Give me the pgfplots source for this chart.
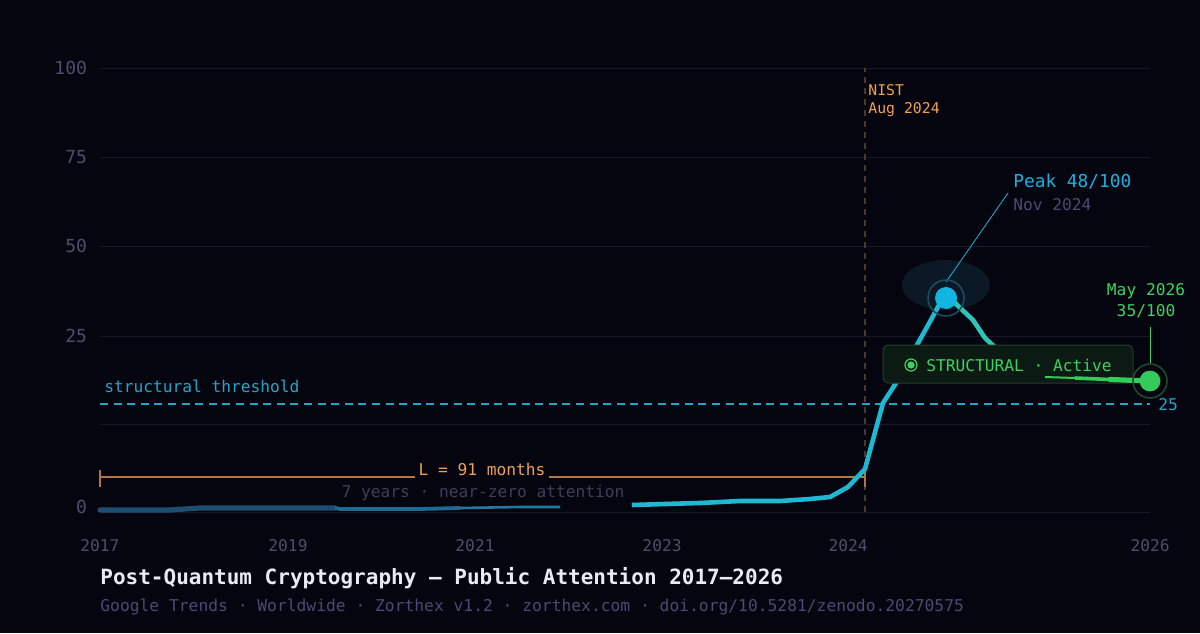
\documentclass[border=0pt]{standalone}
\usepackage{pgfplots}
\pgfplotsset{compat=1.18}
\usepackage{fontspec}
\setmainfont{DejaVu Sans Mono}
\definecolor{bg}{HTML}{05050F}
\definecolor{gridc}{HTML}{181828}
\definecolor{tickc}{HTML}{4E4E6C}
\definecolor{cyanc}{HTML}{1FB8D2}
\definecolor{tealc}{HTML}{2CC6B8}
\definecolor{greenc}{HTML}{33CC5A}
\definecolor{greent}{HTML}{3DD160}
\definecolor{greenring}{HTML}{1E4A2C}
\definecolor{orangec}{HTML}{F2A050}
\definecolor{orangel}{HTML}{B07840}
\definecolor{nistc}{HTML}{4A3828}
\definecolor{earlyc}{HTML}{1D4E72}
\definecolor{earlyc2}{HTML}{1F6A92}
\definecolor{grayt}{HTML}{3E3E58}
\definecolor{subc}{HTML}{4A4A72}
\definecolor{peakc}{HTML}{12B4E2}
\definecolor{peakring}{HTML}{1B4B5C}
\definecolor{glowc}{HTML}{0B1926}
\definecolor{thrc}{HTML}{1FA5C8}
\definecolor{boxfill}{HTML}{0B1A12}
\definecolor{boxdraw}{HTML}{1F4028}
\definecolor{titlec}{HTML}{EAEAF2}
\newcommand{\fs}{\fontsize{8.1}{9.7}\selectfont}
\begin{document}
\begin{tikzpicture}
\path[use as bounding box, fill=bg] (-50pt,-60.5pt) rectangle (550pt,256pt);
\begin{axis}[
  at={(0pt,0pt)}, anchor=south west,
  scale only axis, width=525pt, height=222pt,
  xmin=100, xmax=1150, ymin=121, ymax=565,
  clip=false,
  axis line style={draw=none},
  major tick length=0pt,
  tick style={draw=none},
  /pgf/number format/assume math mode=true,
  xtick={100,288,475,662,848,1150},
  xticklabels={2017,2019,2021,2023,2024,2026},
  ytick={126,297,387,476,565},
  yticklabels={0,25,50,75,100},
  ticklabel style={text=tickc},
  xticklabel style={font=\fs, yshift=-10pt},
  yticklabel style={font=\fontsize{9}{10}\selectfont, xshift=-3pt},
]
% grid
\foreach \yy in {121,209,297,387,476,565}{
  \edef\tmp{\noexpand\draw[gridc, line width=0.5pt] (axis cs:100,\yy) -- (axis cs:1150,\yy);}\tmp
}
% NIST line
\draw[nistc, line width=0.7pt, dash pattern=on 3pt off 2.5pt] (axis cs:865,121) -- (axis cs:865,565);
% threshold
\draw[thrc, line width=0.8pt, dash pattern=on 4pt off 2.8pt] (axis cs:100,229) -- (axis cs:1150,229);
% L bracket
\draw[orangel, line width=0.6pt] (axis cs:100,156) -- (axis cs:865,156);
\draw[orangel, line width=0.6pt] (axis cs:100,146) -- (axis cs:100,163);
\draw[orangel, line width=0.6pt] (axis cs:865,146) -- (axis cs:865,163);
% early low segment
\addplot[earlyc, line width=2.6pt, line cap=round, line join=round] coordinates {
 (100,123) (140,123) (170,123) (200,125) (230,125) (335,125)};
\addplot[earlyc2, line width=1.9pt, line join=round] coordinates {
 (335,125) (340,124) (420,124) (460,125)};
\addplot[earlyc2!80!cyanc, line width=1.3pt, line join=round] coordinates {
 (460,125) (520,126) (560,126)};
% glow
\fill[glowc] (axis cs:946,348) ellipse [x radius=22pt, y radius=12.5pt];
% main rise
\addplot[cyanc, line width=2.3pt, line join=round] coordinates {
 (632,128) (665,129) (700,130) (740,132) (780,132) (810,134) (830,136)
 (848,146) (865,164) (883,230) (898,253) (917,288) (932,315) (946,341)};
\addplot[tealc, line width=2.3pt, line join=round] coordinates {
 (946,341) (957,328) (973,313) (985,295) (1000,281) (1020,268) (1040,258)};
% status box
\filldraw[draw=boxdraw, fill=boxfill, line width=0.5pt, rounded corners=3pt]
  (axis cs:883,250) rectangle (axis cs:1133,288);
% green end, above the box
\addplot[greenc, line width=1.0pt] coordinates {(1045,256) (1075,255)};
\addplot[greenc, line width=1.8pt] coordinates {(1075,255) (1110,253.5)};
\addplot[greenc, line width=2.6pt, line cap=round] coordinates {(1110,253.5) (1150,252)};
\draw[greent, line width=0.6pt] (axis cs:911,268) circle[radius=3pt];
\fill[greent] (axis cs:911,268) circle[radius=1.8pt];
\node[anchor=west, font=\fs, text=greent, inner sep=0pt] at (axis cs:926,268) {STRUCTURAL · Active};
% peak marker
\draw[peakc, line width=0.4pt] (axis cs:946,351) -- (axis cs:1008,440);
\draw[peakring, line width=0.8pt] (axis cs:946,335) circle[radius=9pt];
\fill[peakc] (axis cs:946,335) circle[radius=5.5pt];
\node[anchor=west, font=\fontsize{8.9}{10}\selectfont, text=peakc, inner sep=0pt] at (axis cs:1013,451) {Peak 48/100};
\node[anchor=west, font=\fs, text=subc, inner sep=0pt] at (axis cs:1013,428) {Nov 2024};
% current marker
\draw[greent, line width=0.5pt] (axis cs:1150,306) -- (axis cs:1150,269);
\draw[greenring, line width=0.8pt] (axis cs:1150,252) circle[radius=8.5pt];
\fill[greenc] (axis cs:1150,252) circle[radius=5.2pt];
\node[font=\fs, text=greent, inner sep=0pt] at (axis cs:1146,342) {May 2026};
\node[font=\fs, text=greent, inner sep=0pt] at (axis cs:1146,322) {35/100};
% NIST label
\node[anchor=west, font=\fontsize{7.4}{9}\selectfont, text=orangec, inner sep=0pt] at (axis cs:868,543) {NIST};
\node[anchor=west, font=\fontsize{7.4}{9}\selectfont, text=orangec, inner sep=0pt] at (axis cs:868,523) {Aug 2024};
% threshold labels
\node[anchor=west, font=\fs, text=thrc, inner sep=0pt] at (axis cs:104,247) {structural threshold};
\node[anchor=west, font=\fs, text=thrc, inner sep=0pt] at (axis cs:1158,228) {25};
% L label
\node[font=\fs, text=orangec, fill=bg, inner sep=2pt] at (axis cs:482,164) {L = 91 months};
\node[font=\fs, text=grayt, inner sep=0pt] at (axis cs:483,140) {7 years · near-zero attention};
% title
\node[anchor=west, font=\fontsize{10.5}{12}\selectfont\bfseries, text=titlec, inner sep=0pt] at (axis cs:100,55) {Post-Quantum Cryptography — Public Attention 2017–2026};
\node[anchor=west, font=\fontsize{8.15}{10}\selectfont, text=subc, inner sep=0pt] at (axis cs:100,26) {Google Trends · Worldwide · Zorthex v1.2 · zorthex.com · doi.org/10.5281/zenodo.20270575};
\end{axis}
\end{tikzpicture}
\end{document}
